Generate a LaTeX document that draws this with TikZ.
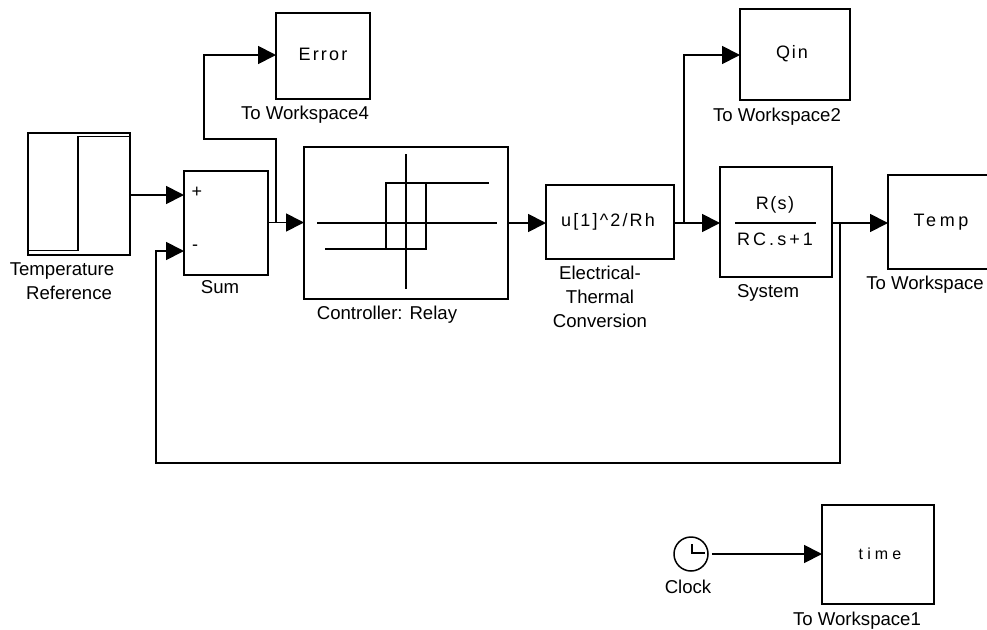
\documentclass[tikz,border=0pt]{standalone}
\usepackage{fontspec}
\setmainfont{Liberation Sans}
\usetikzlibrary{arrows.meta}
\tikzset{
  x=1pt,y=-1pt,
  wire/.style={line width=1.8pt,-{Triangle[length=18pt,width=18pt]}},
  blockbox/.style={draw,line width=1.8pt,outer sep=0pt,minimum width=0pt,minimum height=0pt,inner sep=0pt,anchor=north west},
  caption/.style={font=\fontsize{18.6pt}{24pt}\selectfont,inner sep=0pt,align=center},
  inside/.style={font=\fontsize{18pt}{20pt}\selectfont,inner sep=0pt},
  glyph/.style={line width=1.8pt},
}
\newcommand{\spc}[1]{\addfontfeature{LetterSpace=#1}}
\begin{document}
\begin{tikzpicture}
\useasboundingbox (0,0) rectangle (987,629);
% blocks
\node[blockbox,minimum width=102pt,minimum height=122pt] (ref) at (28,133) {};
\node[blockbox,minimum width=84pt,minimum height=104pt] (sum) at (184,171) {};
\node[blockbox,minimum width=204pt,minimum height=152pt] (relay) at (304,147) {};
\node[blockbox,minimum width=128pt,minimum height=74pt] (fcn) at (546,185) {};
\node[blockbox,minimum width=112pt,minimum height=110pt] (sys) at (720,167) {};
\node[blockbox,minimum width=94pt,minimum height=86pt] (err) at (276,13) {};
\node[blockbox,minimum width=110pt,minimum height=91pt] (qin) at (740,9) {};
\node[blockbox,draw=none,minimum width=99pt,minimum height=94pt] (temp) at (888,175) {};
\draw[glyph] (temp.north east) -- (temp.north west) -- (temp.south west) -- (temp.south east);
\node[blockbox,minimum width=112pt,minimum height=99pt] (tim) at (822,505) {};
\node[draw,circle,line width=1.5pt,minimum size=34pt,inner sep=0pt] (clk) at (691,554) {};
% step glyph
\draw[glyph] (28,250.5) -- (78,250.5) -- (78,136.5) -- (130,136.5);
% relay glyph
\draw[glyph] (406,154) -- (406,289);
\draw[glyph] (317,223) -- (497,223);
\draw[glyph] (325,249) -- (426,249) -- (426,183);
\draw[glyph] (386,249) -- (386,183) -- (489,183);
% transfer fcn bar
\draw[glyph] (735,223) -- (816,223);
% clock hands
\draw[line width=1.5pt] (692,544) -- (692,553) -- (705,553);
% coordinates
\coordinate (b1) at (276,222.5);
\coordinate (b2) at (684,223);
\coordinate (b3) at (840,223);
% connectors
\draw[wire] (ref.east |- 0,195) -- (sum.west |- 0,195);
\draw[wire] (sum.east |- b1) -- (relay.west |- b1);
\draw[wire] (relay.east |- 0,223) -- (fcn.west |- 0,223);
\draw[wire] (fcn.east |- b2) -- (sys.west |- b2);
\draw[wire] (sys.east |- b3) -- (temp.west |- b3);
\draw[wire] (b1) -- (276,139) -- (204,139) -- (204,55) -- (err.west |- 0,55);
\draw[wire] (b2) -- (684,55) -- (qin.west |- 0,55);
\draw[wire] (b3) -- (840,463) -- (156,463) -- (156,251) -- (sum.west |- 0,251);
\draw[wire] (clk.east) ++(3,0) -- (tim.west |- clk.east);
% inside text
\node[inside] (plus) at (197,192) {+};
\node[inside] (minus) at (195,248) {-};
\node[inside] (t1) at (323,54) {\spc{12}Error};
\node[inside] (t2) at (792,54) {\spc{10}Qin};
\node[inside] (t3) at (608,222) {\spc{12}u[1]\textasciicircum 2/Rh};
\node[inside] (t4) at (775,205) {\spc{8}R(s)};
\node[inside] (t5) at (775,239) {\spc{17}RC.s+1};
\node[inside] (t6) at (941,222) {\spc{20}Temp};
\node[inside,font=\fontsize{16pt}{18pt}\selectfont] (t7) at (880,554) {\spc{26}time};
% captions
\node[caption] (c1) at (305,114.5) {To Workspace4};
\node[caption] (c2) at (777,116.5) {To Workspace2};
\node[caption] (c3) at (62,281) {Temperature\\\hspace*{14pt}Reference};
\node[caption] (c4) at (220,287) {Sum};
\node[caption] (c5) at (387,315) {Controller: Relay};
\node[caption] (c6) at (600,297) {Electrical-\\Thermal\\Conversion};
\node[caption] (c7) at (768,293) {System};
\node[caption] (c8) at (925,285) {To Workspace};
\node[caption] (c9) at (688,587) {Clock};
\node[caption] (c10) at (857,621) {To Workspace1};
\end{tikzpicture}
\end{document}
